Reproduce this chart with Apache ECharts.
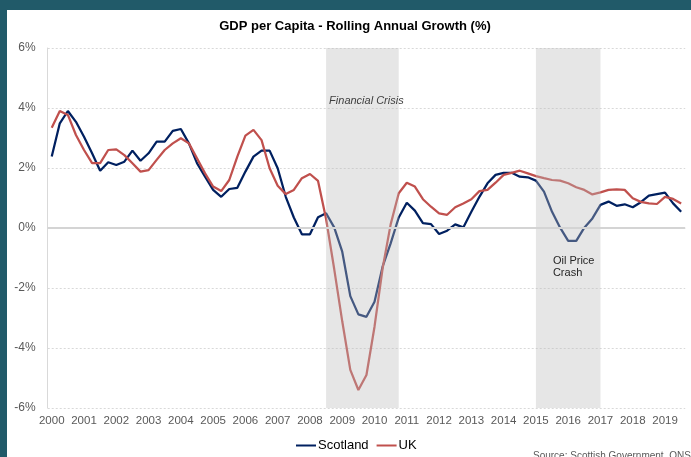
<!DOCTYPE html>
<html>
<head>
<meta charset="utf-8">
<script src="https://cdn.jsdelivr.net/npm/echarts@6/dist/echarts.min.js"></script>
<style>
    html, body { margin: 0; padding: 0; }
    body { width: 691px; height: 457px; background: #215a69; position: relative; overflow: hidden; }
    #chart { position: absolute; left: 7px; top: 10px; width: 684px; height: 447px; background: #fff; }
</style>
</head>
<body>
<div id="chart"></div>
<script>
// years and quarters -> categories (2000 Q1 .. 2019 Q3)
const years = ['2000', '2001', '2002', '2003', '2004', '2005', '2006', '2007', '2008', '2009',
    '2010', '2011', '2012', '2013', '2014', '2015', '2016', '2017', '2018', '2019']
const quarters = ['Q1', 'Q2', 'Q3', 'Q4']

// rolling annual growth, %
const scotland = [
    2.38, 3.49, 3.90, 3.54, 3.04, 2.49, 1.91, 2.19, 2.10, 2.21,
    2.58, 2.24, 2.49, 2.88, 2.88, 3.24, 3.30, 2.82, 2.16, 1.71,
    1.27, 1.04, 1.30, 1.34, 1.88, 2.38, 2.58, 2.58, 1.99, 1.04,
    0.35, -0.21, -0.21, 0.36, 0.49, 0.02, -0.79, -2.27, -2.88, -2.96,
    -2.46, -1.29, -0.51, 0.35, 0.84, 0.58, 0.16, 0.13, -0.20, -0.09,
    0.12, 0.02, 0.54, 1.04, 1.49, 1.77, 1.84, 1.84, 1.71, 1.69,
    1.58, 1.21, 0.54, 0.01, -0.43, -0.43, 0.01, 0.32, 0.77, 0.88,
    0.74, 0.79, 0.69, 0.86, 1.08, 1.13, 1.18, 0.82, 0.54
]
const uk = [
    3.34, 3.90, 3.77, 3.10, 2.60, 2.16, 2.16, 2.60, 2.62, 2.43,
    2.16, 1.88, 1.93, 2.27, 2.60, 2.82, 2.99, 2.82, 2.32, 1.82,
    1.38, 1.23, 1.60, 2.38, 3.08, 3.27, 2.93, 1.99, 1.41, 1.13,
    1.27, 1.66, 1.80, 1.57, 0.30, -1.36, -3.11, -4.73, -5.40, -4.90,
    -3.29, -1.35, 0.12, 1.16, 1.51, 1.38, 0.96, 0.71, 0.49, 0.44,
    0.69, 0.82, 0.96, 1.23, 1.27, 1.51, 1.77, 1.84, 1.91, 1.82,
    1.73, 1.66, 1.60, 1.58, 1.49, 1.36, 1.27, 1.12, 1.19, 1.27,
    1.29, 1.27, 0.99, 0.87, 0.82, 0.80, 1.04, 0.97, 0.82
]

// shaded periods
const crisisStart = '2008 Q3'
const crisisEnd = '2010 Q4'
const oilStart = '2015 Q1'
const oilEnd = '2017 Q1'

const yTicks = [-6, -4, -2, 0, 2, 4, 6]

const categories = []
years.forEach(function (y) {
    quarters.forEach(function (q) {
        if (categories.length < scotland.length) categories.push(y + ' ' + q)
    })
})

const font = "'Liberation Sans', Arial, sans-serif"
const myChart = echarts.init(document.getElementById('chart'))

const option = {
    animation: false,
    textStyle: { fontFamily: font },
    title: {
        text: 'GDP per Capita - Rolling Annual Growth (%)',
        left: 348,
        textAlign: 'center',
        top: 10,
        padding: 0,
        textStyle: { fontSize: 13, fontWeight: 'bold', color: '#000', fontFamily: font }
    },
    legend: {
        left: 289,
        top: 429,
        padding: 0,
        icon: 'rect',
        itemWidth: 20,
        itemHeight: 2,
        itemGap: 8,
        textStyle: { fontSize: 13, color: '#000', fontFamily: font, padding: [0, 0, 0, -3] },
        data: ['Scotland', 'UK']
    },
    grid: { left: 40.7, right: 5.8, top: 38, bottom: 49 },
    xAxis: {
        type: 'category',
        data: categories,
        boundaryGap: true,
        axisLine: { show: false },
        axisTick: { show: false },
        axisLabel: {
            interval: 3,
            margin: 7,
            fontSize: 11.5,
            color: '#595959',
            formatter: function (v) { return v.slice(0, 4) }
        },
        splitLine: { show: false }
    },
    yAxis: {
        type: 'value',
        min: yTicks[0],
        max: yTicks[yTicks.length - 1],
        interval: 2,
        axisLine: { show: true, lineStyle: { color: '#d9d9d9', width: 1 } },
        axisTick: { show: false },
        axisLabel: {
            margin: 12,
            fontSize: 12,
            color: '#595959',
            formatter: '{value}%'
        },
        splitLine: { lineStyle: { color: '#d9d9d9', type: [2, 2], width: 1 } }
    },
    series: [
        {
            name: 'Scotland',
            type: 'line',
            data: scotland,
            symbol: 'none',
            lineStyle: { color: '#002060', width: 2.25 },
            itemStyle: { color: '#002060' },
            markLine: {
                silent: true,
                symbol: 'none',
                label: { show: false },
                lineStyle: { color: '#d4d4d4', type: 'solid', width: 2 },
                data: [{ yAxis: 0 }]
            }
        },
        {
            name: 'UK',
            type: 'line',
            data: uk,
            symbol: 'none',
            lineStyle: { color: '#c0504d', width: 2.25 },
            itemStyle: { color: '#c0504d' },
            markArea: {
                silent: true,
                z: 5,
                itemStyle: { color: 'rgba(188,188,188,0.37)' },
                data: [
                    [
                        {
                            xAxis: crisisStart,
                            label: {
                                show: true,
                                position: [3, 47],
                                formatter: 'Financial Crisis',
                                fontStyle: 'italic',
                                fontSize: 11,
                                color: '#404040',
                                fontFamily: font
                            }
                        },
                        { xAxis: crisisEnd }
                    ],
                    [
                        {
                            xAxis: oilStart,
                            label: {
                                show: true,
                                position: [17, 207],
                                formatter: 'Oil Price\nCrash',
                                fontSize: 11,
                                lineHeight: 12,
                                color: '#262626',
                                fontFamily: font
                            }
                        },
                        { xAxis: oilEnd }
                    ]
                ]
            }
        }
    ],
    graphic: [
        {
            type: 'text',
            left: 526,
            top: 441,
            style: { text: 'Source: Scottish Government, ONS', fontSize: 10, fill: '#595959', fontFamily: font }
        }
    ]
}

myChart.setOption(option)
</script>
</body>
</html>
